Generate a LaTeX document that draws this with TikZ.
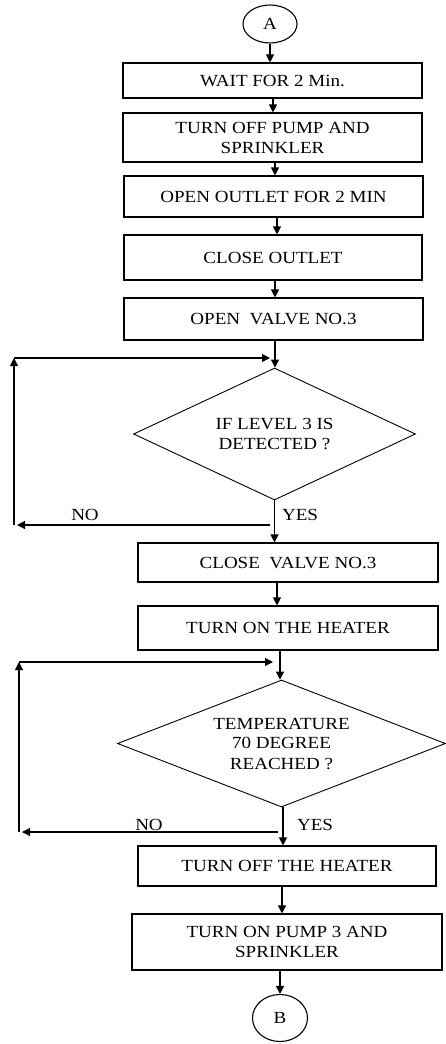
\documentclass[tikz,border=0pt]{standalone}
\usepackage{fontspec}
\setmainfont{Liberation Serif}[FakeStretch=1.12]
\usetikzlibrary{shapes.geometric,arrows.meta}
\begin{document}
\begin{tikzpicture}[x=1pt,y=-1pt,
  txt/.style={font=\fontsize{17}{20}\selectfont, align=center, inner sep=0pt},
  stepbox/.style={txt, draw, line width=1.1pt, rectangle},
  decision/.style={txt, draw, line width=0.9pt, diamond},
  terminal/.style={txt, draw, line width=1.1pt, ellipse},
  arr/.style={line width=1.1pt, -{Triangle[length=8pt,width=8pt]}},
  lbl/.style={txt}
]
\useasboundingbox (0,0) rectangle (446,1044);

\node[terminal, minimum width=54pt, minimum height=38pt] (A) at (270,24) {A};
\node[stepbox, minimum width=299pt, minimum height=35pt] (b1) at (272.5,80.5) {WAIT FOR 2 Min.};
\node[stepbox, minimum width=299pt, minimum height=49pt] (b2) at (272.5,137.5) {TURN OFF PUMP AND\\SPRINKLER};
\node[stepbox, minimum width=299pt, minimum height=41pt] (b3) at (273.5,196.5) {OPEN OUTLET FOR 2 MIN};
\node[stepbox, minimum width=298pt, minimum height=45pt] (b4) at (273,257.5) {CLOSE OUTLET};
\node[stepbox, minimum width=299pt, minimum height=42pt] (b5) at (273.5,319) {OPEN\ \ VALVE NO.3};
\node[decision, shape aspect=2.14, minimum width=282pt, minimum height=132pt] (d1) at (274.5,434) {IF LEVEL 3 IS\\DETECTED ?};
\node[stepbox, minimum width=300pt, minimum height=39pt] (b6) at (288,562.5) {CLOSE\ \ VALVE NO.3};
\node[stepbox, minimum width=300pt, minimum height=44pt] (b7) at (288,628) {TURN ON THE HEATER};
\node[decision, shape aspect=2.58, minimum width=328pt, minimum height=127pt] (d2) at (281.5,743.5) {TEMPERATURE\\70 DEGREE\\REACHED ?};
\node[stepbox, minimum width=298pt, minimum height=40pt] (b8) at (287,866) {TURN OFF THE HEATER};
\node[stepbox, minimum width=310pt, minimum height=56pt] (b9) at (287,942) {TURN ON PUMP 3 AND\\SPRINKLER};
\node[terminal, minimum width=55pt, minimum height=47pt] (B) at (280,1018) {B};

% loop corner coordinates
\coordinate (n1) at (270,525);
\coordinate (c1b) at (14,525);
\coordinate (c1t) at (14,358);
\coordinate (m1) at (270,358);
\coordinate (n2) at (278,832);
\coordinate (c2b) at (19,832);
\coordinate (c2t) at (19,662);
\coordinate (m2) at (273,662);

% main flow
\draw[arr] (A.south) -- (A.south |- b1.north);
\draw[arr] ([xshift=0.5pt]b1.south) -- ([xshift=0.5pt]b1.south |- b2.north);
\draw[arr] ([xshift=2.5pt]b2.south) -- ([xshift=2.5pt]b2.south |- b3.north);
\draw[arr] ([xshift=3.5pt]b3.south) -- ([xshift=3.5pt]b3.south |- b4.north);
\draw[arr] ([xshift=2pt]b4.south) -- ([xshift=2pt]b4.south |- b5.north);
\draw[arr] ([xshift=1.5pt]b5.south) -- ([xshift=1.5pt]b5.south |- d1.north);
\draw[arr] (d1.south) -- (d1.south |- b6.north);
\draw[arr] ([xshift=-11pt]b6.south) -- ([xshift=-11pt]b6.south |- b7.north);
\draw[arr] ([xshift=-8pt]b7.south) -- ([xshift=-8pt]b7.south |- d2.north);
\draw[arr] ([xshift=1.5pt]d2.south) -- ([xshift=1.5pt]d2.south |- b8.north);
\draw[arr] ([xshift=-5pt]b8.south) -- ([xshift=-5pt]b8.south |- b9.north);
\draw[arr] ([xshift=-7pt]b9.south) -- (B.north);

% loop 1
\draw[arr] (n1) -- ([xshift=3pt]c1b);
\draw[arr] (c1b) -- (c1t);
\draw[arr] (c1t) -- (m1);
% loop 2
\draw[arr] (n2) -- ([xshift=3pt]c2b);
\draw[arr] (c2b) -- (c2t);
\draw[arr] (c2t) -- (m2);

% labels
\node[lbl] (no1) at (85,515) {NO};
\node[lbl] (yes1) at (300,515) {YES};
\node[lbl] (no2) at (149,825) {NO};
\node[lbl] (yes2) at (315,825) {YES};
\end{tikzpicture}
\end{document}
